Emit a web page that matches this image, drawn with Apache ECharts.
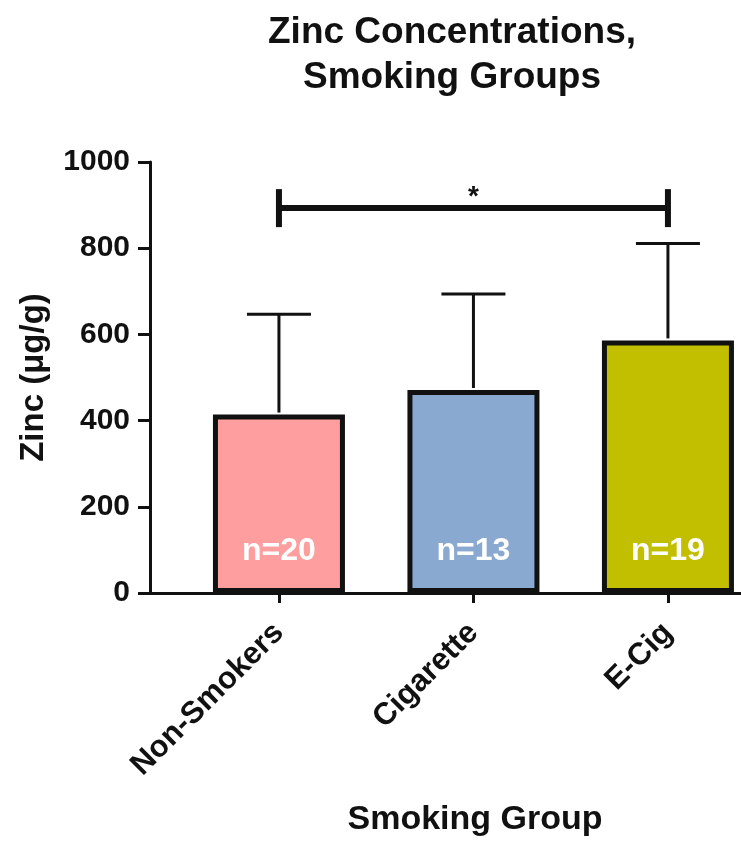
<!DOCTYPE html>
<html>
<head>
<meta charset="utf-8">
<script src="https://cdn.jsdelivr.net/npm/echarts@6/dist/echarts.min.js"></script>
<style>html,body{margin:0;padding:0;background:#fff;}#chart{width:741px;height:846px;}</style>
</head>
<body>
<div id="chart"></div>
<script>
// ---- data ----
const categories = ['Non-Smokers', 'Cigarette', 'E-Cig'];
const means = [414, 471, 586];
const upperErr = [647, 694, 811];
const nLabels = ['n=20', 'n=13', 'n=19'];
const barColors = ['#FE9E9E', '#8AA9D1', '#C2BF00'];
const yTicks = [0, 200, 400, 600, 800, 1000];
const sigFrom = 0, sigTo = 2, sigLevel = 893, sigText = '*';

const FONT = '"Liberation Sans", Arial, Helvetica, sans-serif';
const INK = '#111';

const chart = echarts.init(document.getElementById('chart'), null, {renderer: 'canvas'});

const catIdx = categories.map((c, i) => i);

const option = {
  animation: false,
  backgroundColor: '#fff',
  title: {
    text: 'Zinc Concentrations,\nSmoking Groups',
    left: 447,
    top: 5,
    textAlign: 'center',
    textStyle: {fontFamily: FONT, fontWeight: 'bold', fontSize: 37, lineHeight: 45, color: INK}
  },
  grid: {left: 150, right: -59, top: 162, bottom: 253, outerBoundsMode: 'none', containLabel: false},
  xAxis: {
    type: 'value',
    min: -0.663,
    max: 2.679,
    splitLine: {show: false},
    axisLine: {show: true, onZero: false, lineStyle: {color: INK, width: 3}},
    axisTick: {show: true, length: 10, lineStyle: {color: INK, width: 3}, customValues: catIdx},
    axisLabel: {
      customValues: catIdx,
      rotate: 45,
      margin: 35,
      formatter: v => categories[Math.round(v)] || '',
      fontFamily: FONT, fontWeight: 'bold', fontSize: 31, color: INK
    },
    name: 'Smoking Group',
    nameLocation: 'middle',
    nameGap: 210,
    nameTextStyle: {fontFamily: FONT, fontWeight: 'bold', fontSize: 34, color: INK}
  },
  yAxis: {
    type: 'value',
    min: yTicks[0],
    max: yTicks[yTicks.length - 1],
    interval: 200,
    splitLine: {show: false},
    axisLine: {show: true, onZero: false, lineStyle: {color: INK, width: 3}},
    axisTick: {show: true, length: 12, lineStyle: {color: INK, width: 3}},
    axisLabel: {margin: 20, formatter: v => String(v), fontFamily: FONT, fontWeight: 'bold', fontSize: 30, color: INK},
    name: 'Zinc (μg/g)',
    nameLocation: 'middle',
    nameGap: 100,
    nameTextStyle: {fontFamily: FONT, fontWeight: 'bold', fontSize: 33, color: INK}
  },
  series: [
    {
      type: 'bar',
      barWidth: 132,
      data: means.map((m, i) => ({
        value: [i, m],
        itemStyle: {color: barColors[i], borderColor: INK, borderWidth: 5}
      })),
      label: {
        show: true,
        position: 'insideBottom',
        distance: 26,
        formatter: p => nLabels[p.dataIndex],
        fontFamily: FONT, fontWeight: 'bold', fontSize: 32, color: '#fff'
      },
      z: 2
    },
    {
      type: 'custom',
      z: 3,
      encode: {x: 0, y: [1, 2]},
      data: means.map((m, i) => [i, m, upperErr[i]]),
      renderItem: (params, api) => {
        const x = api.value(0);
        const p0 = api.coord([x, api.value(1)]);
        const p1 = api.coord([x, api.value(2)]);
        const half = 32;
        return {
          type: 'group',
          children: [
            {type: 'line', shape: {x1: p0[0], y1: p0[1] - 2, x2: p1[0], y2: p1[1]}, style: {stroke: INK, lineWidth: 3}},
            {type: 'line', shape: {x1: p1[0] - half, y1: p1[1], x2: p1[0] + half, y2: p1[1]}, style: {stroke: INK, lineWidth: 3}}
          ]
        };
      }
    },
    {
      type: 'custom',
      z: 3,
      encode: {x: [0, 1], y: 2},
      data: [[sigFrom, sigTo, sigLevel]],
      renderItem: (params, api) => {
        const a = api.coord([api.value(0), api.value(2)]);
        const b = api.coord([api.value(1), api.value(2)]);
        const capH = 19;
        const st = {stroke: INK, lineWidth: 6};
        return {
          type: 'group',
          children: [
            {type: 'line', shape: {x1: a[0], y1: a[1], x2: b[0], y2: b[1]}, style: st},
            {type: 'line', shape: {x1: a[0], y1: a[1] - capH, x2: a[0], y2: a[1] + capH}, style: st},
            {type: 'line', shape: {x1: b[0], y1: b[1] - capH, x2: b[0], y2: b[1] + capH}, style: st},
            {type: 'text', x: (a[0] + b[0]) / 2, y: a[1] - 11,
              style: {text: sigText, fontFamily: FONT, fontWeight: 'bold', fontSize: 28, fill: INK, align: 'center', verticalAlign: 'middle'}}
          ]
        };
      }
    }
  ]
};

chart.setOption(option);
</script>
</body>
</html>
